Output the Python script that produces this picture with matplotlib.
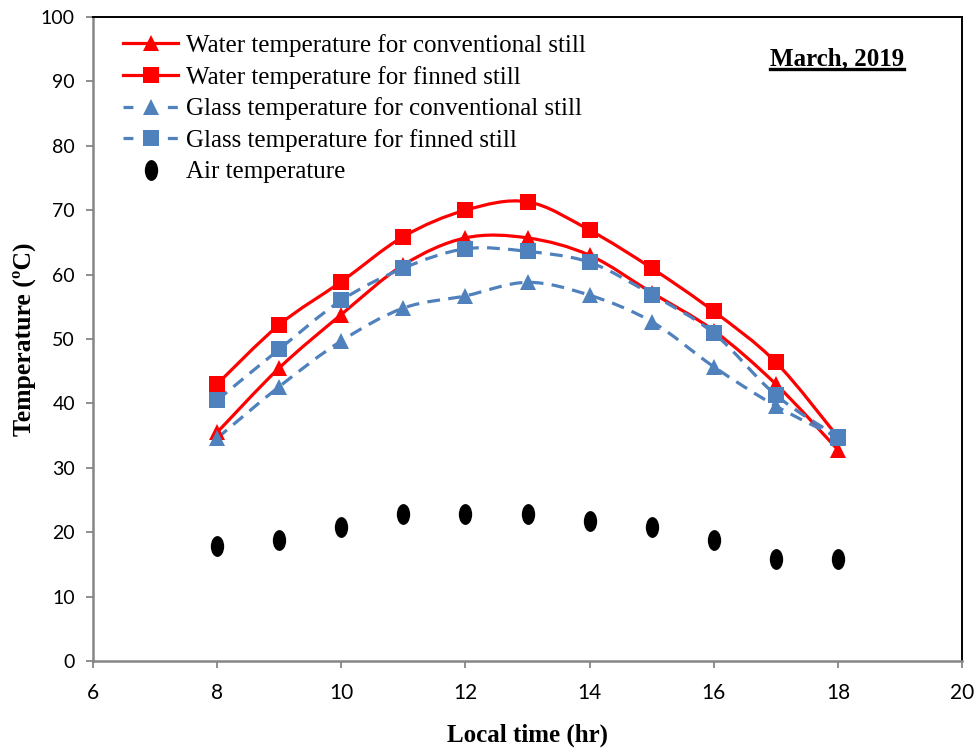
import numpy as np
import matplotlib
matplotlib.use("Agg")
import matplotlib.pyplot as plt
from matplotlib.path import Path
from matplotlib.patches import PathPatch
from matplotlib.lines import Line2D
from matplotlib.transforms import Affine2D

# ---------------- data ----------------
hours = [8, 9, 10, 11, 12, 13, 14, 15, 16, 17, 18]
water_conv = [35.5, 45.5, 53.8, 61.5, 65.7, 65.7, 63.0, 57.2, 51.3, 43.0, 32.8]
water_fin = [43.0, 52.2, 58.9, 65.9, 70.0, 71.3, 66.9, 61.0, 54.3, 46.4, 34.8]
glass_conv = [34.6, 42.6, 49.7, 54.8, 56.7, 58.8, 56.8, 52.7, 45.7, 39.6, 34.7]
glass_fin = [40.5, 48.4, 56.0, 61.0, 64.0, 63.6, 61.9, 56.9, 50.9, 41.3, 34.8]
air = [17.8, 18.8, 20.8, 22.8, 22.8, 22.8, 21.8, 20.8, 18.8, 15.8, 15.8]

labels = ["Water temperature for conventional still",
          "Water temperature for finned still",
          "Glass temperature for conventional still",
          "Glass temperature for finned still",
          "Air temperature"]

RED = "#FF0000"
BLUE = "#4F81BD"
SERIF = "Liberation Serif"
SANS = "Lato"


def smooth_path(x, y):
    """Excel-like smoothed line: Catmull-Rom spline as cubic Bezier segments."""
    P = np.column_stack([x, y]).astype(float)
    n = len(P)
    verts = [P[0]]
    codes = [Path.MOVETO]
    for i in range(n - 1):
        p0 = P[i - 1] if i > 0 else P[i]
        p1 = P[i]
        p2 = P[i + 1]
        p3 = P[i + 2] if i + 2 < n else P[i + 1]
        c1 = p1 + (p2 - p0) / 6.0
        c2 = p2 - (p3 - p1) / 6.0
        verts += [c1, c2, p2]
        codes += [Path.CURVE4] * 3
    return Path(verts, codes)


fig = plt.figure(figsize=(9.78, 7.52), dpi=100)
ax = fig.add_axes([93 / 978, 1 - 661 / 752, (962 - 93) / 978, (661 - 17) / 752])

LW = 2.3
MS = 11
DASH = (0, (4, 2.6))
series = [
    (water_conv, RED, "-", "^"),
    (water_fin, RED, "-", "s"),
    (glass_conv, BLUE, DASH, "^"),
    (glass_fin, BLUE, DASH, "s"),
]
for ys, col, ls, mk in series:
    ax.add_patch(PathPatch(smooth_path(hours, ys), facecolor="none",
                           edgecolor=col, lw=LW, linestyle=ls, zorder=2,
                           capstyle="butt"))
for ys, col, ls, mk in series:
    ax.plot(hours, ys, ls="none", marker=mk, ms=MS, color=col,
            markeredgewidth=0, zorder=3)

ellipse = Path.unit_circle().transformed(Affine2D().scale(0.64, 1.0))
ax.plot(hours, air, ls="none", marker=ellipse, ms=15, color="black",
        markeredgewidth=0, zorder=3)

ax.set_xlim(6, 20)
ax.set_ylim(0, 100)
ax.set_xticks(range(6, 21, 2))
ax.set_yticks(range(0, 101, 10))

for s in ["left", "bottom"]:
    ax.spines[s].set_color("#868686")
    ax.spines[s].set_linewidth(1.8)
for s in ["top", "right"]:
    ax.spines[s].set_color("black")
    ax.spines[s].set_linewidth(1.4)
ax.tick_params(direction="out", length=5, width=1.3, color="#868686", pad=6)
ax.tick_params(axis="x", labelsize=15, pad=11)
ax.tick_params(axis="y", labelsize=14, pad=8)
for lab in ax.get_xticklabels() + ax.get_yticklabels():
    lab.set_family(SANS)

ax.set_xlabel("Local time (hr)", family=SERIF, fontsize=18, fontweight="bold",
              labelpad=15)
ax.set_ylabel("Temperature (ºC)", family=SERIF, fontsize=18.5, fontweight="bold")
ax.yaxis.set_label_coords((36 - 93) / 869, 0.5)

# underlined date annotation
tx = fig.text(837 / 978, 1 - 65 / 752, "March, 2019", family=SERIF,
              fontsize=18, fontweight="bold", ha="center", va="baseline")
fig.canvas.draw()
bb = tx.get_window_extent()
fig.add_artist(Line2D([bb.x0 / fig.bbox.width, bb.x1 / fig.bbox.width],
                      [(bb.y0 + 1.0) / fig.bbox.height] * 2,
                      transform=fig.transFigure, color="black", lw=2.4))

LEG_DASH = (0, (3.1, 10.8))
handles = [
    Line2D([], [], color=RED, lw=LW, marker="^", ms=MS, mew=0),
    Line2D([], [], color=RED, lw=LW, marker="s", ms=MS, mew=0),
    Line2D([], [], color=BLUE, lw=LW, ls=LEG_DASH, marker="^", ms=MS, mew=0),
    Line2D([], [], color=BLUE, lw=LW, ls=LEG_DASH, marker="s", ms=MS, mew=0),
    Line2D([], [], color="black", ls="none", marker=ellipse, ms=15, mew=0),
]
leg = fig.legend(handles, labels, loc="upper left",
                 bbox_to_anchor=(123 / 978, 1 - 34 / 752),
                 frameon=False, prop={"family": SERIF, "size": 18},
                 handlelength=2.2, handletextpad=0.3, labelspacing=0.35,
                 borderpad=0, borderaxespad=0)

fig.savefig("out.png", dpi=100)
